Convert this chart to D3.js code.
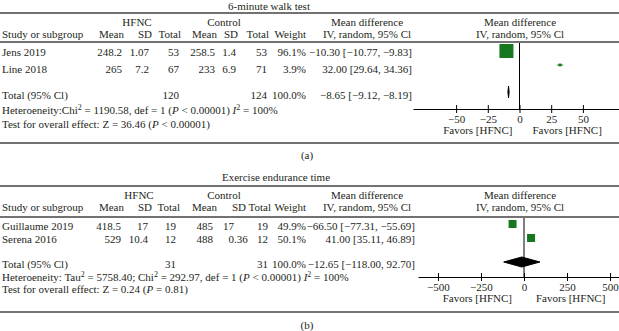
<!DOCTYPE html>
<html>
<head>
<meta charset="utf-8">
<script src="https://cdn.jsdelivr.net/npm/d3@7"></script>
<style>
  body { margin: 0; background: #fff; }
  svg { display: block; font-family: "Liberation Serif", "Times New Roman", serif; font-size: 11px; }
</style>
</head>
<body>
<div id="chart"></div>
<script>
// ---- data: panel (a) 6-minute walk test
const titleA = "6-minute walk test";
const studiesA = ["Jens 2019", "Line 2018"];
const hfncMeanA = [248.2, 265];
const hfncSdA = [1.07, 7.2];
const hfncTotalA = [53, 67];
const ctrlMeanA = [258.5, 233];
const ctrlSdA = [1.4, 6.9];
const ctrlTotalA = [53, 71];
const weightA = [96.1, 3.9];
const mdA = [-10.30, 32.00];
const ciLowA = [-10.77, 29.64];
const ciHighA = [-9.83, 34.36];
const totalA = { hfnc: 120, ctrl: 124, weight: 100.0, md: -8.65, lo: -9.12, hi: -8.19 };
const hetA = { tau2: null, chi2: 1190.58, df: 1, p: "< 0.00001", i2: 100, z: 36.46, pz: "< 0.00001" };
const ticksA = [-50, -25, 0, 25, 50];

// ---- data: panel (b) exercise endurance time
const titleB = "Exercise endurance time";
const studiesB = ["Guillaume 2019", "Serena 2016"];
const hfncMeanB = [418.5, 529];
const hfncSdB = [17, 10.4];
const hfncTotalB = [19, 12];
const ctrlMeanB = [485, 488];
const ctrlSdB = [17, 0.36];
const ctrlTotalB = [19, 12];
const weightB = [49.9, 50.1];
const mdB = [-66.50, 41.00];
const ciLowB = [-77.31, 35.11];
const ciHighB = [-55.69, 46.89];
const totalB = { hfnc: 31, ctrl: 31, weight: 100.0, md: -12.65, lo: -118.00, hi: 92.70 };
const hetB = { tau2: 5758.40, chi2: 292.97, df: 1, p: "< 0.00001", i2: 100, z: 0.24, pz: "= 0.81" };
const ticksB = [-500, -250, 0, 250, 500];

const groupLabels = ["HFNC", "Control"];
const colHeaders = ["Mean", "SD", "Total", "Mean", "SD", "Total", "Weight"];
const favorLabels = ["Favors [HFNC]", "Favors [HFNC]"];

const W = 619, H = 331;
const ink = "#231f20", green = "#15781f", rule = "#727272";
const f2 = d3.format(".2f"), f1 = d3.format(".1f");

const svg = d3.select("#chart").append("svg").attr("width", W).attr("height", H);

function txt(g, x, y, s, anchor) {
  return g.append("text").attr("x", x).attr("y", y).attr("fill", ink)
    .attr("text-anchor", anchor || "start").text(s);
}

// segments: [text, kind] kind: "" | "i" | "sup"
function richText(g, x, y, segs) {
  const t = g.append("text").attr("x", x).attr("y", y).attr("fill", ink);
  let up = false;
  segs.forEach(([s, k]) => {
    const sp = t.append("tspan").text(s);
    if (k === "i") sp.attr("font-style", "italic");
    if (k === "sup") { sp.attr("font-size", 8).attr("dy", -4); up = true; }
    else if (up) { sp.attr("dy", 4); up = false; }
  });
}

function drawPanel(p, L) {
  const g = svg.append("g");
  const cols = L.cols;

  txt(g, L.titleX, L.title, p.title, "middle");
  const hline = y => g.append("line").attr("x1", 0).attr("x2", W).attr("y1", y).attr("y2", y)
    .attr("stroke", rule).attr("stroke-width", 2);
  hline(L.rule1); hline(L.rule2); hline(L.rule3);

  txt(g, L.groupX[0], L.group, groupLabels[0], "middle");
  txt(g, L.groupX[1], L.group, groupLabels[1], "middle");
  txt(g, 2, L.head, "Study or subgroup");
  colHeaders.forEach((h, i) => txt(g, cols[i], L.head, h, "end"));
  txt(g, L.mdHeadX, L.group, "Mean difference", "middle");
  txt(g, L.mdHeadX, L.head, "IV, random, 95% Cl", "middle");
  txt(g, L.plotHeadX, L.group, "Mean difference", "middle");
  txt(g, L.plotHeadX, L.head, "IV, random, 95% Cl", "middle");

  const x = d3.scaleLinear().domain(L.xDomain).range(L.xRange);
  const size = d3.scaleSqrt().domain([0, 100]).range([0, L.markerMax]);

  p.studies.forEach((s, i) => {
    const y = L.rows[i];
    txt(g, 2, y, s);
    const vals = [p.hm[i], p.hs[i], p.ht[i], p.cm[i], p.cs[i], p.ct[i]].map(String);
    vals.push(f1(p.w[i]) + "%");
    vals.forEach((v, j) => {
      if ((L.decimalCols || []).includes(j)) {
        // decimal-aligned: integer part ends at the anchor
        const [ip, fp] = v.split(".");
        txt(g, L.dataCols[j], y, ip, "end");
        if (fp) txt(g, L.dataCols[j], y, "." + fp, "start");
      } else {
        txt(g, L.dataCols[j], y, v, "end");
      }
    });
    txt(g, L.mdX, y, `${f2(p.md[i])} [${f2(p.lo[i])}, ${f2(p.hi[i])}]`, "end");

    const my = y - L.markerOff[i];
    g.append("line").attr("x1", x(p.lo[i])).attr("x2", x(p.hi[i]))
      .attr("y1", my).attr("y2", my).attr("stroke", green).attr("stroke-width", 1);
    const sz = size(p.w[i]);
    g.append("rect").attr("x", x(p.md[i]) - sz / 2).attr("y", my - sz / 2)
      .attr("width", sz).attr("height", sz).attr("fill", green);
  });

  // totals
  const t = p.total;
  txt(g, 2, L.total, "Total (95% Cl)");
  txt(g, L.dataCols[2], L.total, String(t.hfnc), "end");
  txt(g, L.dataCols[5], L.total, String(t.ctrl), "end");
  txt(g, L.dataCols[6], L.total, f1(t.weight) + "%", "end");
  txt(g, L.mdX, L.total, `${f2(t.md)} [${f2(t.lo)}, ${f2(t.hi)}]`, "end");
  const dy = L.total - L.diamondOff, dh = L.diamondH;
  g.append("path")
    .attr("d", `M${x(t.lo)},${dy} L${x(t.md)},${dy - dh / 2} L${x(t.hi)},${dy} L${x(t.md)},${dy + dh / 2} Z`)
    .attr("fill", "#000").attr("stroke", "#000").attr("stroke-width", 1);

  const h = p.het;
  const segs = [["Heteroeneity:" + (h.tau2 != null ? " Tau" : "Chi"), ""]];
  if (h.tau2 != null) {
    segs.push(["2", "sup"], [` = ${f2(h.tau2)}; Chi`, ""]);
  }
  segs.push(["2", "sup"], [` = ${f2(h.chi2)}, def = ${h.df} (`, ""], ["P", "i"],
    [` ${h.p}) `, ""], ["I", "i"], ["2", "sup"], [` = ${h.i2}%`, ""]);
  richText(g, 2, L.het, segs);
  richText(g, 2, L.test, [[`Test for overall effect: Z = ${f2(h.z)} (`, ""], ["P", "i"], [` ${h.pz})`, ""]]);

  // zero line
  g.append("line").attr("x1", x(0)).attr("x2", x(0)).attr("y1", L.rule2 + 1).attr("y2", L.axisY)
    .attr("stroke", "#000").attr("stroke-width", 1);

  // axis
  const ax = g.append("g").attr("transform", `translate(0,${L.axisY})`)
    .call(d3.axisBottom(x).tickValues(p.ticks).tickFormat(d3.format("d")).tickSize(4).tickSizeOuter(0).tickPadding(2));
  ax.select(".domain").attr("stroke", "#000");
  ax.selectAll(".tick line").attr("y1", -4).attr("stroke", "#000");
  ax.selectAll(".tick text").attr("fill", ink).attr("font-size", 11)
    .attr("font-family", "Liberation Serif, Times New Roman, serif");

  txt(g, x(0) - L.favGap[0], L.axisY + 25, favorLabels[0], "end");
  txt(g, x(0) + L.favGap[1], L.axisY + 25, favorLabels[1], "start");

  txt(g, 307, L.label, p.label, "middle");
}

drawPanel(
  { title: titleA, studies: studiesA, hm: hfncMeanA, hs: hfncSdA, ht: hfncTotalA, cm: ctrlMeanA,
    cs: ctrlSdA, ct: ctrlTotalA, w: weightA, md: mdA, lo: ciLowA, hi: ciHighA, total: totalA,
    het: hetA, ticks: ticksA, label: "(a)" },
  { title: 10, titleX: 269, rule1: 13, group: 26, head: 38, rule2: 42, rows: [56, 73],
    total: 99, het: 114, test: 128, rule3: 143, label: 159, axisY: 109,
    groupX: [137, 224], cols: [124, 152, 181, 217, 238, 269, 306], dataCols: [122, 149, 179, 215, 236, 267, 306],
    mdX: 412, mdHeadX: 367, plotHeadX: 520, xDomain: [-84, 84], xRange: [413, 626],
    markerMax: 14.3, markerOff: [5, 8], diamondOff: 7, diamondH: 12, favGap: [7, 13] });

drawPanel(
  { title: titleB, studies: studiesB, hm: hfncMeanB, hs: hfncSdB, ht: hfncTotalB, cm: ctrlMeanB,
    cs: ctrlSdB, ct: ctrlTotalB, w: weightB, md: mdB, lo: ciLowB, hi: ciHighB, total: totalB,
    het: hetB, ticks: ticksB, label: "(b)" },
  { title: 181, titleX: 276, rule1: 186, group: 199, head: 211, rule2: 217, rows: [230, 243],
    total: 268, het: 281, test: 293, rule3: 312, label: 329, axisY: 277,
    groupX: [139, 224], cols: [124, 152, 180, 217, 246, 271, 306], dataCols: [121, 148, 176, 213, 234, 268, 306],
    decimalCols: [4],
    mdX: 415, mdHeadX: 367, plotHeadX: 520, xDomain: [-616, 616], xRange: [418, 630],
    markerMax: 11.3, markerOff: [6, 5], diamondOff: 6, diamondH: 10, favGap: [12, 12] });
</script>
</body>
</html>
